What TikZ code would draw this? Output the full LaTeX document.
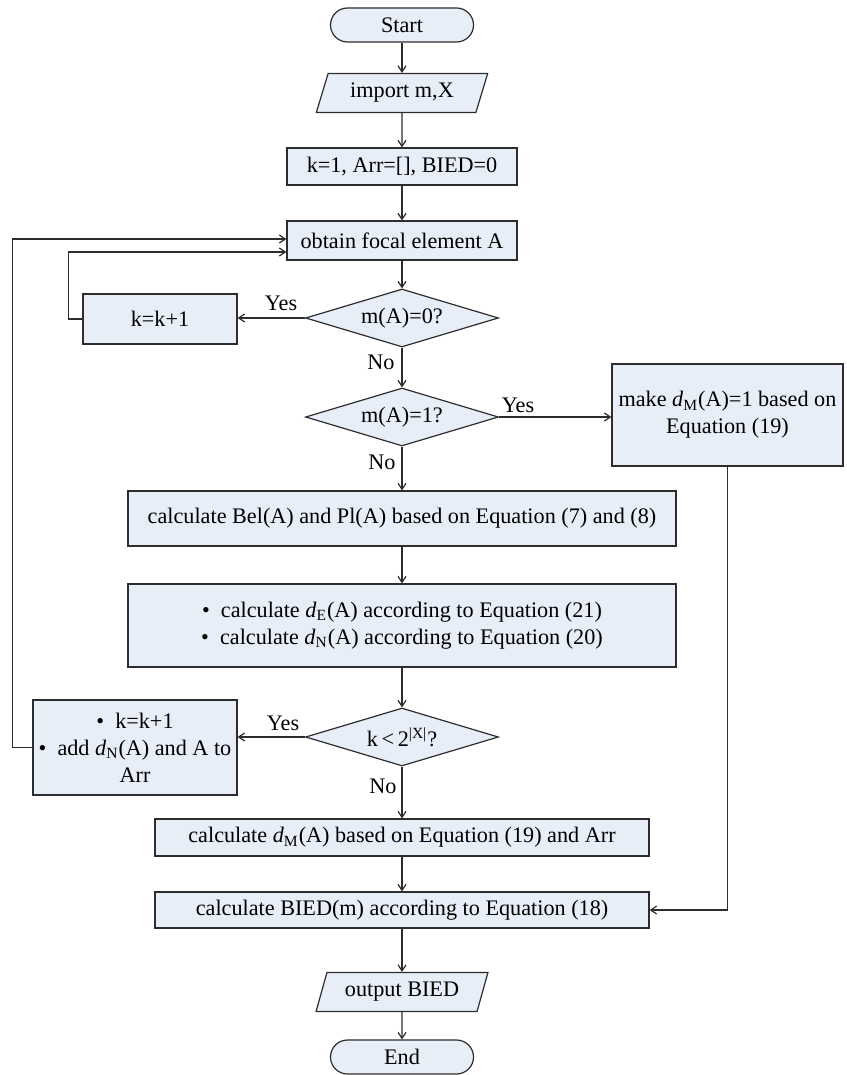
\documentclass[tikz,border=0pt]{standalone}
\usepackage{fontspec}
\setmainfont{Liberation Serif}
\usetikzlibrary{positioning,arrows.meta,calc,shapes.geometric}
\definecolor{boxfill}{RGB}{232,238,247}
\definecolor{edge}{RGB}{45,45,45}
\newcommand{\dsub}[1]{\textit{d}\textsubscript{#1}}

\begin{document}
\begin{tikzpicture}[x=0.5pt,y=-0.5pt,
  font=\fontsize{11.1}{13.6}\selectfont,
  base/.style={draw=edge, fill=boxfill, line width=0.6pt, inner sep=2pt, align=center},
  term/.style={base, rounded corners=8.5pt, minimum width=71.5pt, minimum height=17pt},
  io/.style={base, trapezium, trapezium left angle=72, trapezium right angle=108,
    trapezium stretches=true, minimum width=86pt, minimum height=19.5pt},
  proc/.style={base, minimum height=18.5pt},
  cond/.style={base, diamond, aspect=3.3, inner sep=0pt, minimum width=96.5pt, minimum height=29pt},
  lbl/.style={inner sep=0pt},
  flow/.style={draw=edge, line width=0.6pt, -{Straight Barb[length=3pt,width=4pt]}}]
\useasboundingbox (0,0) rectangle (846,1075);
% Main column (1 unit = 1 px of the original).
\node[term] (start) at (402,25) {Start};
\node[io] (input) at (402,93) {import m,X};
\node[proc, minimum width=115pt] (init) at (402,166.5) {k=1, Arr=[], BIED=0};
\node[proc, minimum width=115pt, minimum height=19.5pt] (obtain) at (402,240.5) {obtain focal element A};
\node[cond] (mzero) at (402,318) {m(A)=0?};
\node[proc, minimum width=77pt, minimum height=25pt] (inc) at (160,319) {k=k+1};
\node[cond] (mone) at (402,417) {m(A)=1?};
\node[proc, minimum width=115.5pt, minimum height=51pt] (unit) at (727.5,415) {make \dsub{M}(A)=1 based on\\Equation (19)};
\node[proc, minimum width=274pt, minimum height=27.5pt] (belpl) at (402,518.5) {calculate Bel(A) and Pl(A) based on Equation (7) and (8)};
\node[proc, minimum width=274pt, minimum height=41.5pt] (dist) at (402,625.5) {\textbullet\ \ calculate \dsub{E}(A) according to Equation (21)\\\textbullet\ \ calculate \dsub{N}(A) according to Equation (20)};
\node[cond] (kless) at (402,737) {k\,<\,2\textsuperscript{|X|}?};
\node[proc, minimum width=102pt, minimum height=47.5pt] (store) at (135,747.5) {\textbullet\ \ k=k+1\\\textbullet\ \ add \dsub{N}(A) and A to\\Arr};
\node[proc, minimum width=247pt, minimum height=18.5pt] (dmass) at (402,837.5) {calculate \dsub{M}(A) based on Equation (19) and Arr};
\node[proc, minimum width=247pt, minimum height=18pt] (bied) at (402,910) {calculate BIED(m) according to Equation (18)};
\node[io] (output) at (402,992) {output BIED};
\node[term] (end) at (402,1057) {End};
% Branch labels.
\node[lbl] (yes0) at (281,303) {Yes};
\node[lbl] (no0) at (381,362) {No};
\node[lbl] (yes1) at (518,405) {Yes};
\node[lbl] (no1) at (382,462) {No};
\node[lbl] (yes2) at (283,723) {Yes};
\node[lbl] (no2) at (383,786) {No};
% Connectors.
\draw[flow] (start) -- (input);
\draw[flow] (input) -- (init);
\draw[flow] (init) -- (obtain);
\draw[flow] (obtain) -- (mzero);
\draw[flow] (mzero) -- (mone);
\draw[flow] (mone) -- (belpl);
\draw[flow] (belpl) -- (dist);
\draw[flow] (dist) -- (kless);
\draw[flow] (kless) -- (dmass);
\draw[flow] (dmass) -- (bied);
\draw[flow] (bied) -- (output);
\draw[flow] (output) -- (end);
\draw[flow] (mzero.west) -- (mzero.west -| inc.east);
\draw[flow] (mone.east) -- (mone.east -| unit.west);
\draw[flow] (kless.west) -- (kless.west -| store.east);
\draw[flow] (unit.south) |- (bied.east);
% Loops back to the focal element.
\coordinate (backin) at ($(obtain.west)+(0,11.5)$);
\coordinate (backout) at ($(obtain.west)+(0,-1.5)$);
\draw[flow] (inc.west) -- ++(-14,0) |- (backin);
\draw[flow] (store.west) -- ++(-20,0) |- (backout);
\end{tikzpicture}
\end{document}
